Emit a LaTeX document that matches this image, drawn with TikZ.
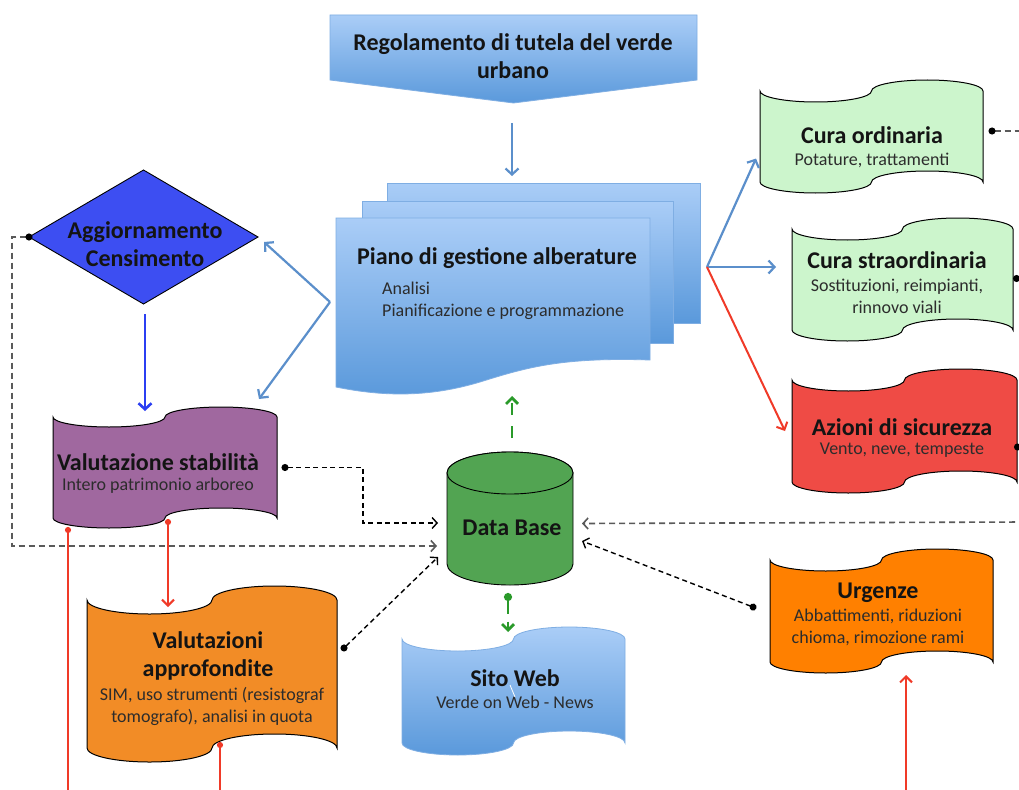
\documentclass[tikz,border=0pt]{standalone}
\usepackage{fontspec}
\setmainfont{Carlito}
\usetikzlibrary{arrows.meta,calc}

\definecolor{lineblue}{HTML}{5B8FCB}
\definecolor{deepblue}{HTML}{2B3FF2}
\definecolor{linered}{HTML}{F03A28}
\definecolor{linegreen}{HTML}{2A9A2A}
\definecolor{skytop}{HTML}{AACDF7}
\definecolor{skybot}{HTML}{5A99DB}
\definecolor{skyedge}{HTML}{7FAEE3}
\definecolor{mintfill}{HTML}{CCF5CC}
\definecolor{alertfill}{HTML}{EF4B45}
\definecolor{plumfill}{HTML}{A0689F}
\definecolor{amberfill}{HTML}{F28C26}
\definecolor{orangefill}{HTML}{FF8000}
\definecolor{royalfill}{HTML}{3D4EF2}
\definecolor{dbfill}{HTML}{52A452}
\definecolor{dashgray}{HTML}{5A5A5A}
\definecolor{inkdark}{HTML}{141414}

% Punched-tape flag: name, left, top baseline, right, bottom baseline, wave amplitude, style
\newcommand\tapeflag[7]{%
  \pgfmathsetmacro\tq{(#4-#2)/4}%
  \pgfmathsetmacro\tk{0.5523}%
  \path[#7] (#2,#3)
    .. controls (#2,{#3+\tk*#6}) and ({#2+\tq-\tk*\tq},{#3+#6}) .. ({#2+\tq},{#3+#6})
    .. controls ({#2+\tq+\tk*\tq},{#3+#6}) and ({#2+2*\tq},{#3+\tk*#6}) .. ({#2+2*\tq},#3)
    .. controls ({#2+2*\tq},{#3-\tk*#6}) and ({#2+3*\tq-\tk*\tq},{#3-#6}) .. ({#2+3*\tq},{#3-#6})
    .. controls ({#2+3*\tq+\tk*\tq},{#3-#6}) and (#4,{#3-\tk*#6}) .. (#4,#3)
    -- (#4,#5)
    .. controls (#4,{#5-\tk*#6}) and ({#2+3*\tq+\tk*\tq},{#5-#6}) .. ({#2+3*\tq},{#5-#6})
    .. controls ({#2+3*\tq-\tk*\tq},{#5-#6}) and ({#2+2*\tq},{#5-\tk*#6}) .. ({#2+2*\tq},#5)
    .. controls ({#2+2*\tq},{#5+\tk*#6}) and ({#2+\tq+\tk*\tq},{#5+#6}) .. ({#2+\tq},{#5+#6})
    .. controls ({#2+\tq-\tk*\tq},{#5+#6}) and (#2,{#5+\tk*#6}) .. (#2,#5)
    -- cycle;
  \node[bbox, minimum width={(#4-#2)*1pt}, minimum height={(#5-#3+2*#6)*1pt}]
    (#1) at ({(#2+#4)/2},{(#3+#5)/2}) {};
}

\tikzset{
  bbox/.style={inner sep=0pt, outer sep=0pt},
  heading/.style={font=\bfseries\fontsize{24}{28}\selectfont, text=inkdark, align=center, inner sep=0pt},
  detail/.style={font=\fontsize{18}{22}\selectfont, text=inkdark!90, align=center, inner sep=0pt},
  flagline/.style={draw=black, line width=1pt},
  sky/.style={draw=skyedge, line width=0.8pt, top color=skytop, bottom color=skybot},
  bluearrow/.style={lineblue, line width=2.2pt, -{Straight Barb[length=6pt,width=13pt]}},
  deeparrow/.style={deepblue, line width=2.6pt, -{Straight Barb[length=6pt,width=13pt]}},
  redarrow/.style={linered, line width=2pt, -{Straight Barb[length=6pt,width=12pt]}},
  reddotarrow/.style={linered, line width=2pt, {Circle[length=6pt]}-{Straight Barb[length=6pt,width=12pt]}},
  reddotline/.style={linered, line width=2pt, {Circle[length=6pt]}-},
  greenarrow/.style={linegreen, line width=2.8pt, dash pattern=on 12pt off 11pt, -{Straight Barb[length=6pt,width=12pt]}},
  greendotarrow/.style={linegreen, line width=2.8pt, dash pattern=on 14pt off 8pt, {Circle[length=8pt]}-{Straight Barb[length=6pt,width=12pt]}},
  darkdash/.style={black, line width=1.4pt, dash pattern=on 5pt off 3.5pt},
  darkdashed/.style={darkdash, {Circle[length=7pt]}-{Straight Barb[length=5pt,width=11pt]}},
  greydash/.style={dashgray, line width=1.6pt, dash pattern=on 6pt off 4pt},
}

\begin{document}
\begin{tikzpicture}[x=1pt,y=-1pt]
\useasboundingbox (0,0) rectangle (1019,789);
\clip (0,0) rectangle (1019,789);
\fill[white] (0,0) rectangle (1019,789);

% ---------- Regolamento banner ----------
\node[bbox, minimum width=367pt, minimum height=65pt] (reg) at (513.5,47.5) {};
\path[sky] (reg.north west) -- (reg.north east) -- (reg.south east)
  -- ($(reg.south)+(0,23)$) -- (reg.south west) -- cycle;
\node[heading] (regtext) at (513,56) {Regolamento di tutela del verde\\urbano};

% ---------- Piano di gestione (stack of documents) ----------
\node[bbox, minimum width=313pt, minimum height=140pt] (pianoback) at (543.5,253) {};
\node[bbox, minimum width=311pt, minimum height=142pt] (pianomid) at (517.5,272) {};
\node[bbox, minimum width=314pt, minimum height=175pt] (piano) at (493,305.5) {};
\path[sky] (pianoback.north west) rectangle (pianoback.south east);
\path[sky] (pianomid.north west) rectangle (pianomid.south east);
\path[sky] (336,218) -- (650,218) -- (650,360)
  .. controls (560,357) and (525,368) .. (480,382)
  .. controls (430,397) and (385,397) .. (336,387) -- cycle;
\node[heading] (pianotext) at (497,258) {Piano di gestione alberature};
\node[detail, align=left, anchor=west] (pianodetail) at (382,301) {Analisi\\Pianificazione e programmazione};

% ---------- Aggiornamento Censimento ----------
\node[bbox, minimum width=229pt, minimum height=134pt] (agg) at (143.5,237) {};
\draw[black, line width=0.9pt, fill=royalfill] (agg.north) -- (agg.east) -- (agg.south) -- (agg.west) -- cycle;
\node[heading] (aggtext) at (145,244) {Aggiornamento\\Censimento};

% ---------- Tape flags ----------
\tapeflag{vs}{53}{417}{277}{518}{10}{flagline, fill=plumfill}
\node[heading] (vstext) at (158,462) {Valutazione stabilità};
\node[detail] (vsdetail) at (158,486) {Intero patrimonio arboreo};

\tapeflag{va}{87}{600}{337}{748}{14}{flagline, fill=amberfill}
\node[heading] (vatext) at (208,656) {Valutazioni\\approfondite};
\node[detail] (vadetail) at (212,706) {SIM, uso strumenti (resistograf\\tomografo), analisi in quota};

\tapeflag{sw}{402}{639}{625}{743}{12}{sky}
\node[heading] (swtext) at (515,678) {Sito Web};
\node[detail] (swdetail) at (515,702) {Verde on Web - News};
\draw[white, line width=0.8pt] (510,685) -- (515,697);

\tapeflag{co}{760}{91}{983}{182}{11}{flagline, fill=mintfill}
\node[heading] (cotext) at (872,135) {Cura ordinaria};
\node[detail] (codetail) at (872,160) {Potature, trattamenti};

\tapeflag{cs}{792}{229}{1013}{330}{11}{flagline, fill=mintfill}
\node[heading] (cstext) at (897,260) {Cura straordinaria};
\node[detail] (csdetail) at (897,296) {Sostituzioni, reimpianti,\\rinnovo viali};

\tapeflag{az}{792}{380}{1017}{482}{11}{flagline, fill=alertfill}
\node[heading] (aztext) at (902,427) {Azioni di sicurezza};
\node[detail] (azdetail) at (902,450) {Vento, neve, tempeste};

\tapeflag{ur}{770}{560}{993}{662}{11}{flagline, fill=orangefill}
\node[heading] (urtext) at (878,593) {Urgenze};
\node[detail] (urdetail) at (878,627.5) {Abbattimenti, riduzioni\\chioma, rimozione rami};

% ---------- Data Base cylinder ----------
\node[bbox, minimum width=126pt, minimum height=133pt] (db) at (510,518.5) {};
\draw[black, line width=0.9pt, fill=dbfill]
  (447,473) -- (447,564)
  .. controls (447,575.6) and (475.2,585) .. (510,585)
  .. controls (544.8,585) and (573,575.6) .. (573,564)
  -- (573,473)
  .. controls (573,461.4) and (544.8,452) .. (510,452)
  .. controls (475.2,452) and (447,461.4) .. (447,473) -- cycle;
\draw[black, line width=0.9pt, fill=dbfill] (510,473) ellipse [x radius=63, y radius=21];
\node[heading] (dbtext) at (512,528) {Data Base};

% ---------- Connectors ----------
\coordinate (pl) at ($(piano.west)+(-6,-3.5)$);
\coordinate (pr) at ($(pianoback.east)+(7,14)$);

\draw[bluearrow] ($(reg.south)+(-1.5,43)$) -- ($(pianoback.north -| reg.south)+(-1.5,-7)$);
\draw[bluearrow] (pl) -- ($(agg.east)+(6,5)$);
\draw[bluearrow] (pl) -- ($(vs.north east)+(-18,-8)$);
\draw[bluearrow] (pr) -- ($(co.west)+(-4,22)$);
\draw[bluearrow] (pr) -- ($(cs.west)+(-16,-12.5)$);
\draw[redarrow] (pr) -- ($(az.west)+(-7,0)$);

\draw[deeparrow] ($(agg.south)+(1.5,10)$) -- ($(agg.south |- vs.north)+(1.5,4)$);

\draw[greenarrow] ($(db.north)+(2,-14)$) -- ($(db.north)+(2,-56)$);
\draw[greendotarrow] ($(db.south)+(-2,8)$) -- ($(db.south)+(-2,47)$);

% dashed data flows into the Data Base
\draw[darkdashed] ($(vs.east)+(4.5,0)$) -- ++(81.5,0) |- ($(db.west)+(-9,4.5)$);
\draw[greydash, {Circle[length=7pt,color=black]}-{Straight Barb[length=5pt,width=11pt]}]
  ($(agg.west)+(3.5,0)$) -- ++(-20.5,0) |- ($(db.west)+(-10,27.5)$);
\draw[darkdashed] ($(va.east)+(4.5,-23.6)$) -- ($(db.west)+(-9,38.5)$);
\coordinate (eastin) at (1025,522);
\draw[greydash, -{Straight Barb[length=5pt,width=11pt]}] (eastin) -- ($(db.east)+(9,5)$);
\draw[darkdashed] ($(ur.west)+(-13.7,-2.7)$) -- ($(db.east)+(9,22.5)$);

% outgoing dashed links on the right
\draw[greydash, {Circle[length=7pt,color=black]}-] ($(co.east)+(5.5,-5.5)$) -- ++(40,0);
\draw[darkdash, {Circle[length=7pt]}-] ($(cs.east)+(0,-1)$) -- ++(30,0);
\draw[darkdash, {Circle[length=7pt]}-] ($(az.east)+(-3,16)$) -- ++(30,0);

% red links
\draw[reddotline] ($(vs.south west)+(15,-1)$) -- ++(0,280);
\draw[reddotarrow] ($(vs.south)+(3,-9)$) -- ($(va.north)+(-44,21)$);
\draw[reddotline] ($(va.south)+(8,-20)$) -- ++(0,70);
\coordinate (urin) at (906,800);
\draw[redarrow] (urin) -- ($(ur.south)+(24.5,2)$);
\end{tikzpicture}
\end{document}
